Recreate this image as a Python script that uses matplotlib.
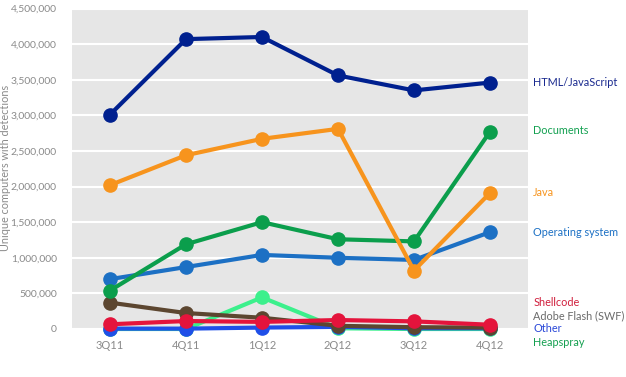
import matplotlib
matplotlib.use("Agg")
import matplotlib.pyplot as plt
from matplotlib.ticker import FuncFormatter

quarters = ["3Q11", "4Q11", "1Q12", "2Q12", "3Q12", "4Q12"]
html_js = [3010000, 4070000, 4100000, 3560000, 3350000, 3460000]
java = [2020000, 2440000, 2670000, 2810000, 820000, 1910000]
documents = [540000, 1190000, 1500000, 1260000, 1230000, 2770000]
operating_system = [700000, 870000, 1040000, 1000000, 970000, 1360000]
adobe_flash = [370000, 224000, 158000, 45000, 25000, 20000]
shellcode = [66000, 112000, 100000, 126000, 107000, 60000]
heapspray = [0, 0, 444000, 10000, 0, 0]
other = [5000, 5000, 20000, 30000, 10000, 10000]

series = [
    ("Heapspray", heapspray, "#3cf08c", "#14a050"),
    ("Other", other, "#1f4fe8", "#2a48d8"),
    ("Adobe Flash (SWF)", adobe_flash, "#5c4630", "#6a6a6a"),
    ("Shellcode", shellcode, "#e4143c", "#d01e3c"),
    ("Operating system", operating_system, "#1c70c4", "#1c70c4"),
    ("Documents", documents, "#0b9e4c", "#12a050"),
    ("Java", java, "#f7941d", "#f7941d"),
    ("HTML/JavaScript", html_js, "#00208f", "#1a2a8f"),
]
label_y = {
    "HTML/JavaScript": 3460000,
    "Documents": 2790000,
    "Java": 1920000,
    "Operating system": 1350000,
    "Shellcode": 370000,
    "Adobe Flash (SWF)": 180000,
    "Other": 0,
    "Heapspray": -190000,
}

plt.rcParams["font.family"] = ["Lato", "DejaVu Sans"]
fig = plt.figure(figsize=(6.26, 3.77), dpi=100)
ax = fig.add_axes([72 / 626, 48 / 377, 456 / 626, 320.5 / 377])
ax.set_facecolor("#e6e6e6")
x = list(range(len(quarters)))
for name, vals, col, lcol in series:
    ax.plot(x, vals, color=col, lw=3, marker="o", ms=9.5, clip_on=False, zorder=3)
    ax.text(5.57, label_y[name], name, color=lcol, fontsize=7.8, va="center",
            ha="left", transform=ax.transData, clip_on=False)

ax.set_xlim(-0.5, 5.5)
ax.set_ylim(0, 4500000)
ax.set_yticks(range(0, 4500001, 500000))
ax.yaxis.set_major_formatter(FuncFormatter(lambda v, p: f"{int(v):,}"))
ax.set_xticks(x)
ax.set_xticklabels(quarters)
ax.grid(axis="y", color="white", lw=1.5, zorder=0)
ax.set_axisbelow(True)
for s in ax.spines.values():
    s.set_visible(False)
ax.tick_params(length=0, colors="#8a8a8a", labelsize=8)
ax.tick_params(axis="x", pad=8)
ax.tick_params(axis="y", pad=11, labelsize=7.5)
fig.text(6 / 626, 1 - 168 / 377, "Unique computers with detections", color="#8a8a8a",
         fontsize=7.8, rotation=90, ha="center", va="center")
fig.savefig("out.png", dpi=100)
